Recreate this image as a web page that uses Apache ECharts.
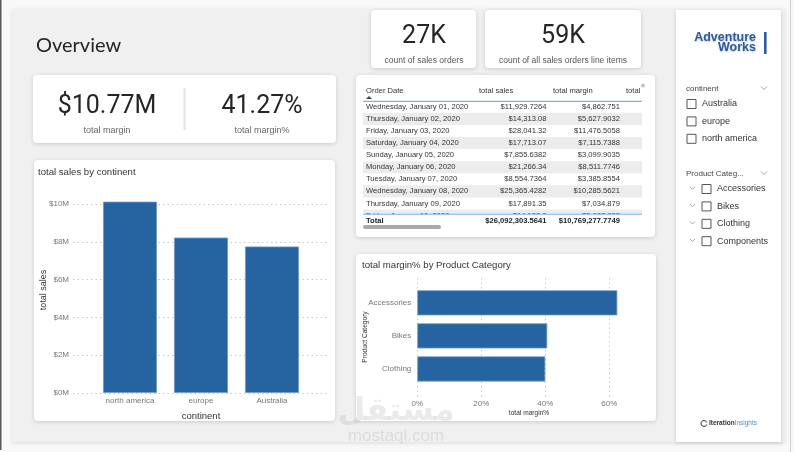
<!DOCTYPE html>
<html>
<head>
<meta charset="utf-8">
<script src="https://cdn.jsdelivr.net/npm/echarts@6/dist/echarts.min.js"></script>
<style>
  html, body { margin: 0; padding: 0; background: #f8f8f8; }
  #chart { width: 794px; height: 452px; }
</style>
</head>
<body>
<div id="chart"></div>
<script>
// chart data
const continents = ['north america', 'europe', 'Australia']
const continentSales = [10.12e6, 8.22e6, 7.75e6]
const categories = ['Accessories', 'Bikes', 'Clothing']
const categoryMargin = [62.5, 40.6, 40.0]
const marginTicks = ['0%', '20%', '40%', '60%']

// kpi cards
const kpiValues = ['$10.77M', '41.27%', '27K', '59K']
const kpiLabels = ['total margin', 'total margin%', 'count of sales orders', 'count of all sales orders line items']

// table
const tableHeaders = ['Order Date', 'total sales', 'total margin', 'total']
const orderDates = [
  'Wednesday, January 01, 2020', 'Thursday, January 02, 2020', 'Friday, January 03, 2020',
  'Saturday, January 04, 2020', 'Sunday, January 05, 2020', 'Monday, January 06, 2020',
  'Tuesday, January 07, 2020', 'Wednesday, January 08, 2020', 'Thursday, January 09, 2020',
  'Friday, January 10, 2020'
]
const orderSales = [
  '$11,929.7264', '$14,313.08', '$28,041.32', '$17,713.07', '$7,855.6382',
  '$21,266.34', '$8,554.7364', '$25,365.4282', '$17,891.35', '$14,128.8'
]
const orderMargin = [
  '$4,862.751', '$5,627.9032', '$11,476.5058', '$7,115.7388', '$3,099.9035',
  '$8,511.7746', '$3,385.8554', '$10,285.5621', '$7,034.879', '$5,687.833'
]
const tableTotals = ['Total', '$26,092,303.5641', '$10,769,277.7749']

// slicers
const continentItems = ['Australia', 'europe', 'north america']
const productItems = ['Accessories', 'Bikes', 'Clothing', 'Components']

const UI = '"Liberation Sans", Arial, sans-serif'
const BLUE = '#2564a0'

function txt(x, y, text, size, color, extra) {
  const o = Object.assign({ align: 'left', weight: 'normal', family: UI, z: 10 }, extra || {})
  return {
    type: 'text', x: x, y: y, z: o.z, rotation: o.rotation || 0,
    style: {
      text: text, fill: color, fontSize: size, fontFamily: o.family, fontWeight: o.weight,
      align: o.align, verticalAlign: 'middle', textAlign: o.align, textVerticalAlign: 'middle',
      textShadowColor: o.shadow ? 'rgba(0,0,0,0.25)' : 'transparent',
      textShadowBlur: o.shadow ? 2 : 0, textShadowOffsetY: o.shadow ? 1 : 0,
      rich: o.rich
    }
  }
}

function card(x, y, w, h, r) {
  return {
    type: 'rect', z: -5,
    shape: { x: x, y: y, width: w, height: h, r: r === undefined ? 4 : r },
    style: { fill: '#ffffff', shadowBlur: 4, shadowColor: 'rgba(0,0,0,0.16)', shadowOffsetY: 1 }
  }
}

function box(x, y) {
  return {
    type: 'rect', z: 10,
    shape: { x: x, y: y, width: 9, height: 9 },
    style: { fill: '#fff', stroke: '#555', lineWidth: 1 }
  }
}

function chevron(x, y, w) {
  return {
    type: 'polyline', z: 10,
    shape: { points: [[x, y - w / 4], [x + w / 2, y + w / 4], [x + w, y - w / 4]] },
    style: { stroke: '#999', lineWidth: 0.9, fill: null }
  }
}

const g = []

// page frame
g.push({ type: 'rect', z: -10, shape: { x: 0, y: 0, width: 1.5, height: 450 }, style: { fill: '#555' } })
g.push({ type: 'rect', z: -10, shape: { x: 790, y: 0, width: 1, height: 452 }, style: { fill: '#cfcfcf' } })
g.push({
  type: 'rect', z: -9, shape: { x: 12, y: 9, width: 773, height: 433 },
  style: { fill: '#f0f0f0', shadowBlur: 4, shadowColor: 'rgba(0,0,0,0.12)', shadowOffsetY: 1 }
})

// cards
g.push(card(33, 75, 303, 68))
g.push(card(371, 10, 105, 58))
g.push(card(485, 10, 156, 58))
g.push(card(356, 75, 299, 162))
g.push(card(34, 160, 301, 261))
g.push(card(356, 254, 300, 167))
g.push(card(676, 10, 105, 432, 0))

// title
g.push(txt(36, 46, 'Overview', 20, '#252525', { family: 'Lato' }))

// kpis
g.push(txt(107, 107, kpiValues[0], 25, '#252525', { align: 'center', family: 'Roboto' }))
g.push(txt(107, 131, kpiLabels[0], 9, '#666', { align: 'center' }))
g.push({ type: 'rect', z: 10, shape: { x: 183.5, y: 88, width: 2, height: 42 }, style: { fill: '#e3e3e3' } })
g.push(txt(262, 107, kpiValues[1], 25, '#252525', { align: 'center', family: 'Roboto' }))
g.push(txt(262, 131, kpiLabels[1], 9, '#666', { align: 'center' }))
g.push(txt(424, 37, kpiValues[2], 25, '#252525', { align: 'center', family: 'Roboto' }))
g.push(txt(424, 60.5, kpiLabels[2], 8.5, '#555', { align: 'center' }))
g.push(txt(563, 37, kpiValues[3], 25, '#252525', { align: 'center', family: 'Roboto' }))
g.push(txt(563, 60.5, kpiLabels[3], 8.5, '#555', { align: 'center' }))

// table
const colX = [366, 479, 553, 626]
tableHeaders.forEach((h, i) => g.push(txt(colX[i], 90.5, h, 7.6, '#333')))
g.push({ type: 'circle', z: 10, shape: { cx: 643, cy: 85.5, r: 2 }, style: { fill: '#c4c4c4' } })
g.push({ type: 'polygon', z: 10, shape: { points: [[366, 99], [372, 99], [369, 96]] }, style: { fill: '#444' } })
g.push({ type: 'rect', z: 10, shape: { x: 363, y: 100.8, width: 279, height: 1.2 }, style: { fill: '#78b4ea' } })
const rowH = 12.08
orderDates.forEach((d, i) => {
  const cy = 106.8 + i * rowH
  if (i % 2 === 1) {
    g.push({ type: 'rect', z: 9, shape: { x: 363, y: cy - rowH / 2, width: 279, height: rowH }, style: { fill: '#ececec' } })
  }
  g.push(txt(366, cy, d, 7.6, '#333'))
  g.push(txt(546.5, cy, orderSales[i], 7.6, '#333', { align: 'right' }))
  g.push(txt(620, cy, orderMargin[i], 7.6, '#333', { align: 'right' }))
})
g.push({ type: 'rect', z: 11, shape: { x: 358, y: 214, width: 292, height: 20 }, style: { fill: '#ffffff' } })
g.push({ type: 'rect', z: 12, shape: { x: 363, y: 213.8, width: 279, height: 1 }, style: { fill: '#78b4ea' } })
g.push(txt(366, 220.5, tableTotals[0], 7.6, '#222', { weight: 'bold', z: 12 }))
g.push(txt(546.5, 220.5, tableTotals[1], 7.6, '#222', { weight: 'bold', align: 'right', z: 12 }))
g.push(txt(620, 220.5, tableTotals[2], 7.6, '#222', { weight: 'bold', align: 'right', z: 12 }))
g.push({ type: 'rect', z: 12, shape: { x: 363, y: 225, width: 78, height: 4, r: 2 }, style: { fill: '#a9a9a9' } })

// chart titles and axis names
g.push(txt(38, 172.5, 'total sales by continent', 9.6, '#333'))
g.push(txt(44, 290, 'total sales', 9, '#333', { align: 'center', rotation: Math.PI / 2 }))
g.push(txt(362, 265, 'total margin% by Product Category', 9.6, '#333'))
g.push(txt(365, 337, 'Product Category', 6.6, '#333', { align: 'center', rotation: Math.PI / 2 }))
g.push(txt(529, 413.5, 'total margin%', 6.6, '#333', { align: 'center' }))

// slicer panel
g.push(txt(756, 38, 'Adventure', 12.5, '#2d5c9c', { align: 'right', weight: 'bold', shadow: true }))
g.push(txt(756, 48, 'Works', 12.5, '#2d5c9c', { align: 'right', weight: 'bold', shadow: true }))
g.push({ type: 'rect', z: 10, shape: { x: 764, y: 32, width: 2.6, height: 22 }, style: { fill: '#2d5c9c' } })
g.push(txt(686, 89, 'continent', 8, '#444'))
g.push(chevron(761, 88, 6))
continentItems.forEach((c, i) => {
  const cy = 104 + i * 17.4
  g.push(box(687, cy - 4.5))
  g.push(txt(702, cy, c, 9, '#333'))
})
g.push(txt(686, 174, 'Product Categ...', 8, '#444'))
g.push(chevron(761, 173, 6))
productItems.forEach((c, i) => {
  const cy = 189 + i * 17.4
  g.push(chevron(690, cy - 1, 5))
  g.push(box(702, cy - 4.5))
  g.push(txt(717, cy, c, 9, '#333'))
})

// footer logo
g.push({ type: 'arc', z: 10, shape: { cx: 704, cy: 423.5, r: 3, startAngle: 0.3, endAngle: Math.PI * 2 - 0.3 }, style: { stroke: '#333', lineWidth: 1, fill: null } })
g.push(txt(709, 423.5, '{a|Iteration}{b|Insights}', 6.5, '#333', {
  rich: {
    a: { fontSize: 6.5, fontWeight: 'bold', fill: '#333', fontFamily: UI },
    b: { fontSize: 6.5, fill: '#4a8fd2', fontFamily: UI }
  }
}))

// watermark
g.push(txt(396, 412, 'مستقل', 32, 'rgba(150,150,150,0.2)', { align: 'center', weight: 'bold', family: '"DejaVu Sans", sans-serif', z: 20 }))
g.push(txt(396, 436, 'mostaql.com', 17, 'rgba(150,150,150,0.22)', { align: 'center', z: 20 }))

const dotted = { type: [1.5, 3], width: 1 }
const axisLbl = { color: '#777', fontSize: 8, fontFamily: UI }

const chart = echarts.init(document.getElementById('chart'))
chart.setOption({
  animation: false,
  graphic: { elements: g },
  grid: [
    { left: 73, top: 204, width: 255, height: 189 },
    { left: 94.5, top: 194.5, width: 213, height: 198.5 },
    { left: 417.3, top: 278, width: 256, height: 119 },
    { left: 417.3, top: 286.3, width: 256, height: 99.2 }
  ],
  xAxis: [
    { gridIndex: 0, type: 'category', data: continents, show: false },
    {
      gridIndex: 1, type: 'category', data: continents,
      axisLine: { show: false }, axisTick: { show: false },
      axisLabel: Object.assign({ margin: 4 }, axisLbl),
      name: 'continent', nameLocation: 'middle', nameGap: 18,
      nameTextStyle: { color: '#333', fontSize: 9.5, fontFamily: UI }
    },
    {
      gridIndex: 2, type: 'value', min: 0, max: 80, interval: 20,
      axisLine: { show: false }, axisTick: { show: false },
      axisLabel: Object.assign({
        margin: 3, showMaxLabel: false,
        formatter: (v) => marginTicks[v / 20] || ''
      }, axisLbl),
      splitLine: { show: true, showMaxLine: false, lineStyle: Object.assign({ color: ['#c8c8c8', '#c8c8c8', '#c8c8c8', '#c8c8c8', 'transparent'] }, dotted) }
    },
    { gridIndex: 3, type: 'value', min: 0, max: 80, show: false }
  ],
  yAxis: [
    {
      gridIndex: 0, type: 'value', min: 0, max: 10e6, interval: 2e6,
      axisLine: { show: false }, axisTick: { show: false },
      axisLabel: Object.assign({ margin: 4, formatter: (v) => '$' + (v / 1e6) + 'M' }, axisLbl),
      splitLine: { show: true, lineStyle: Object.assign({ color: '#c8c8c8' }, dotted) }
    },
    { gridIndex: 1, type: 'value', min: 0, max: 10.5e6, show: false },
    { gridIndex: 2, type: 'category', data: categories, show: false },
    {
      gridIndex: 3, type: 'category', data: categories, inverse: true,
      axisLine: { show: false }, axisTick: { show: false },
      axisLabel: Object.assign({ margin: 6 }, axisLbl)
    }
  ],
  series: [
    {
      type: 'bar', xAxisIndex: 1, yAxisIndex: 1, data: continentSales,
      barCategoryGap: '24%',
      itemStyle: { color: BLUE, borderColor: '#6f9bc7', borderWidth: 0.8 }
    },
    {
      type: 'bar', xAxisIndex: 3, yAxisIndex: 3, data: categoryMargin,
      barCategoryGap: '24%',
      itemStyle: { color: BLUE, borderColor: '#6f9bc7', borderWidth: 0.8 }
    }
  ]
})
window.addEventListener('resize', () => chart.resize())
</script>
</body>
</html>
